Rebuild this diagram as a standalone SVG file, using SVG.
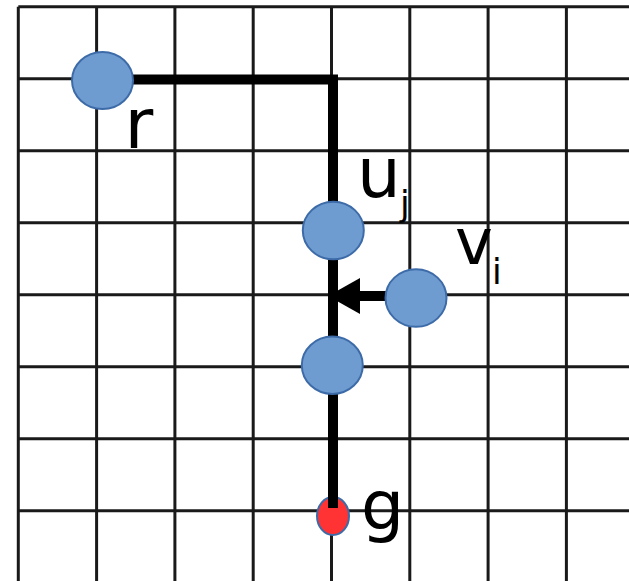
<svg xmlns="http://www.w3.org/2000/svg" width="629" height="581" viewBox="0 0 629 581">
<style>
.grid line{stroke:#1a1a1a;stroke-width:3}
.blue{fill:#6e9bd0;stroke:#3d6ba8;stroke-width:2}
.red{fill:#ff3333;stroke:#3d6ba8;stroke-width:2}
.lbl{font-family:"DejaVu Sans",sans-serif;fill:#000}
.wire{fill:none;stroke:#000;stroke-width:10;stroke-linejoin:miter}
</style>
<defs>
<marker id="ah" markerUnits="userSpaceOnUse" markerWidth="32" markerHeight="36" refX="10" refY="18" orient="auto" viewBox="0 0 32 36">
<path d="M0,0 L32,18 L0,36 Z" fill="#000"/>
</marker>
</defs>
<rect width="629" height="581" fill="#fff"/>
<g class="grid">
<line x1="18.3" y1="6.7" x2="18.3" y2="581"/>
<line x1="96.6" y1="6.7" x2="96.6" y2="581"/>
<line x1="174.9" y1="6.7" x2="174.9" y2="581"/>
<line x1="253.2" y1="6.7" x2="253.2" y2="581"/>
<line x1="331.5" y1="6.7" x2="331.5" y2="581"/>
<line x1="409.8" y1="6.7" x2="409.8" y2="581"/>
<line x1="488.1" y1="6.7" x2="488.1" y2="581"/>
<line x1="566.4" y1="6.7" x2="566.4" y2="581"/>
<line x1="18.3" y1="6.7" x2="629" y2="6.7"/>
<line x1="18.3" y1="78.7" x2="629" y2="78.7"/>
<line x1="18.3" y1="150.7" x2="629" y2="150.7"/>
<line x1="18.3" y1="222.7" x2="629" y2="222.7"/>
<line x1="18.3" y1="294.7" x2="629" y2="294.7"/>
<line x1="18.3" y1="366.7" x2="629" y2="366.7"/>
<line x1="18.3" y1="438.7" x2="629" y2="438.7"/>
<line x1="18.3" y1="510.7" x2="629" y2="510.7"/>
</g>
<g id="node-g">
<ellipse class="red" cx="333" cy="516" rx="16" ry="19"/>
<text class="lbl" x="361" y="529" font-size="68">g</text>
</g>
<g id="connectors">
<path class="wire" d="M102,79.5 H333 V508"/>
<line x1="400" y1="296" x2="350" y2="296" stroke="#000" stroke-width="10" marker-end="url(#ah)"/>
</g>
<g id="node-r">
<ellipse class="blue" cx="102.5" cy="80.5" rx="30.5" ry="28.5"/>
<text class="lbl" x="124.5" y="148" font-size="70">r</text>
</g>
<g id="node-uj">
<ellipse class="blue" cx="333.3" cy="230.5" rx="30.5" ry="28.8"/>
<text class="lbl" x="357" y="197" font-size="69">u</text>
<text class="lbl" x="400" y="216" font-size="35">j</text>
</g>
<g id="node-vi">
<ellipse class="blue" cx="416" cy="298" rx="30.5" ry="28.8"/>
<text class="lbl" x="455" y="264" font-size="64">v</text>
<text class="lbl" x="492" y="284" font-size="35">i</text>
</g>
<g id="node-mid">
<ellipse class="blue" cx="332.3" cy="365.3" rx="30.5" ry="28.7"/>
</g>
</svg>
